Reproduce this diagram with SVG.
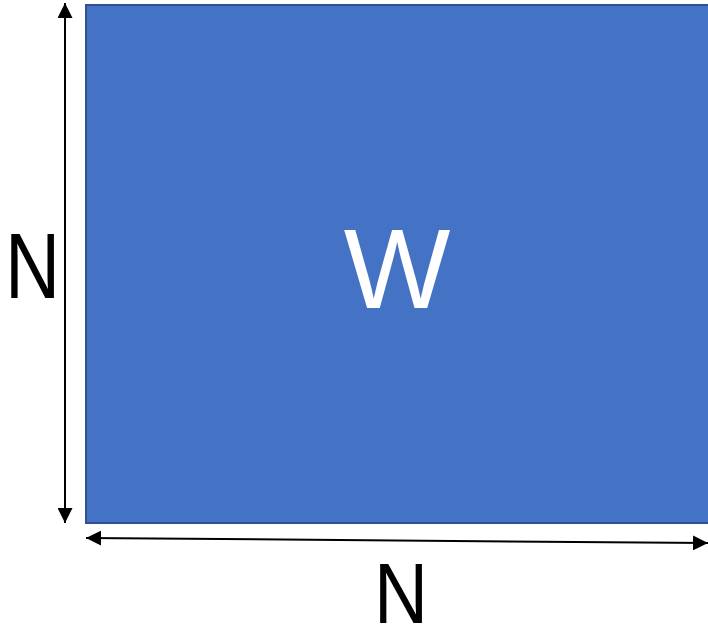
<svg xmlns="http://www.w3.org/2000/svg" width="708" height="625" viewBox="0 0 708 625">
<defs>
<style>
.lbl{font-family:"Liberation Sans",Arial,sans-serif;text-anchor:middle}
.conn{stroke:#000;stroke-width:2;fill:none}
</style>
<marker id="ah" viewBox="0 0 10 10" refX="10" refY="5" markerWidth="15" markerHeight="15" markerUnits="userSpaceOnUse" orient="auto-start-reverse">
<path d="M0,0 L10,5 L0,10 Z" fill="#000"/>
</marker>
</defs>
<rect width="708" height="625" fill="#fff"/>
<g id="W">
<rect x="86" y="5" width="624" height="518" fill="#4472C4" stroke="#2F528F" stroke-width="2"/>
<text class="lbl" x="397" y="308" font-size="113" fill="#fff">W</text>
</g>
<g id="connectors">
<line class="conn" x1="65" y1="3" x2="65" y2="523" marker-start="url(#ah)" marker-end="url(#ah)"/>
<line class="conn" x1="86" y1="538" x2="708" y2="543" marker-start="url(#ah)" marker-end="url(#ah)"/>
</g>
<g id="labelLeft">
<text class="lbl" transform="translate(32.5,298) scale(0.83,1)" font-size="92" fill="#000">N</text>
</g>
<g id="labelBottom">
<text class="lbl" transform="translate(401,623) scale(0.88,1)" font-size="85" fill="#000">N</text>
</g>
</svg>
